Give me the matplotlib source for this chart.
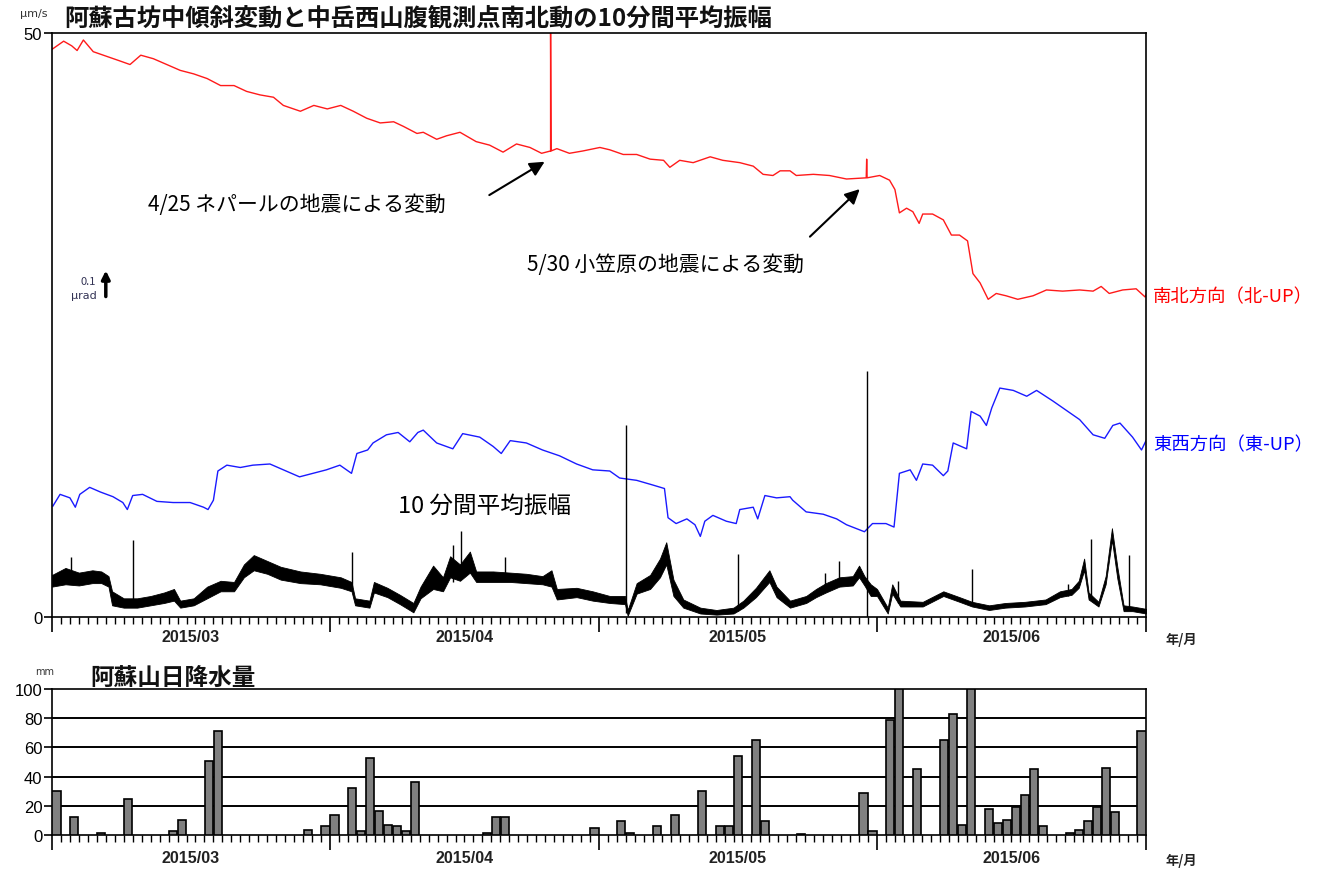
import numpy as np
import matplotlib
matplotlib.use('Agg')
import matplotlib.pyplot as plt
import matplotlib.dates as mdates
import matplotlib.transforms as mtrans
from matplotlib import font_manager
import pandas as pd

plt.rcParams['font.family'] = ['Noto Sans CJK JP', 'DejaVu Sans']
nombres = {f.name for f in font_manager.fontManager.ttflist}
narrow = 'Liberation Sans Narrow' if 'Liberation Sans Narrow' in nombres else 'Liberation Sans'

# dias desde 2015-03-01
t0 = pd.Timestamp('2015-03-01')

# ---- Datos ----
# inclinacion NS (rojo), en unidades del eje
ns_dias = [0, 1.3, 2.2, 2.8, 3.5, 4.6, 6.1, 7.6, 8.7, 9.9, 11.3, 12.8, 14.3, 15.8, 17.3, 18.8,
           20.3, 21.7, 23.2, 24.7, 25.8, 27.7, 29.2, 30.7, 32.2, 33.6, 35.1, 36.6, 38.1, 39.2,
           40.7, 41.4, 42.9, 44.0, 45.5, 47.3, 48.8, 50.3, 51.8, 53.3, 54.6, 55.6, 55.6, 55.65,
           56.3, 57.7, 59.2, 61.1, 62.2, 63.7, 65.2, 66.7, 68.2, 68.9, 70.0, 71.5, 73.4, 74.8,
           76.7, 78.2, 79.3, 80.4, 81.2, 82.3, 83.0, 84.9, 86.7, 88.6, 90.8, 90.85, 90.9, 92.3,
           93.4, 94.0, 94.5, 95.3, 96.0, 96.7, 97.1, 98.2, 99.4, 100.3, 101.2, 102.1, 102.7,
           103.5, 104.4, 105.3, 106.4, 107.7, 109.4, 110.9, 112.7, 114.6, 116.1, 117.0, 117.9,
           119.4, 120.9, 121.9, 122]
ns_val = [48.6, 49.3, 48.9, 48.5, 49.4, 48.4, 48.0, 47.6, 47.3, 48.1, 47.8, 47.3, 46.8, 46.5,
          46.1, 45.5, 45.5, 45.0, 44.7, 44.5, 43.8, 43.3, 43.8, 43.5, 43.8, 43.3, 42.7, 42.3,
          42.4, 42.0, 41.4, 41.5, 40.9, 41.2, 41.5, 40.7, 40.4, 39.8, 40.5, 40.2, 39.7, 39.9,
          50.5, 39.9, 40.1, 39.7, 39.9, 40.2, 40.0, 39.6, 39.6, 39.2, 39.1, 38.5, 39.1, 38.9,
          39.4, 39.1, 38.9, 38.6, 37.9, 37.8, 38.2, 38.2, 37.8, 37.9, 37.8, 37.5, 37.6, 39.2,
          37.6, 37.8, 37.4, 36.6, 34.6, 35.0, 34.7, 33.7, 34.5, 34.5, 34.0, 32.7, 32.7, 32.2,
          29.4, 28.6, 27.2, 27.7, 27.5, 27.2, 27.5, 28.0, 27.9, 28.0, 27.9, 28.3, 27.7, 28.0,
          28.1, 27.4, 27.6]

# inclinacion EW (azul)
ew_dias = [0.1, 0.9, 2.0, 2.6, 3.1, 4.2, 5.4, 6.8, 7.9, 8.4, 9.0, 10.1, 11.7, 13.5, 15.4, 16.9,
           17.4, 18.0, 18.5, 19.5, 21.0, 22.4, 24.3, 25.8, 27.6, 29.1, 30.6, 32.1, 33.4, 34.0,
           35.2, 35.8, 37.3, 38.6, 39.9, 40.8, 41.4, 42.9, 44.7, 45.8, 47.7, 49.2, 50.1, 51.1,
           52.9, 54.7, 56.6, 58.5, 60.3, 62.2, 63.3, 65.2, 67.0, 68.3, 68.7, 69.6, 70.8, 71.7,
           72.3, 72.8, 73.7, 75.2, 76.3, 76.7, 78.2, 78.7, 79.5, 80.8, 82.3, 82.6, 84.1, 86.0,
           87.5, 88.6, 90.6, 91.5, 93.0, 93.9, 94.5, 95.7, 96.4, 97.1, 98.2, 99.4, 99.9, 100.5,
           102.0, 102.5, 103.5, 104.2, 104.8, 105.7, 107.2, 108.7, 109.8, 111.6, 113.1, 114.6,
           116.1, 117.4, 118.3, 119.1, 120.5, 121.5, 122]
ew_val = [9.5, 10.5, 10.2, 9.4, 10.5, 11.1, 10.7, 10.3, 9.8, 9.2, 10.4, 10.5, 9.9, 9.8, 9.8,
          9.4, 9.2, 10.0, 12.5, 13.0, 12.8, 13.0, 13.1, 12.6, 12.0, 12.3, 12.6, 13.0, 12.3, 14.0,
          14.3, 14.9, 15.6, 15.8, 15.0, 15.8, 16.0, 14.9, 14.4, 15.7, 15.4, 14.6, 14.0, 15.1,
          14.9, 14.3, 13.8, 13.1, 12.6, 12.5, 11.9, 11.7, 11.3, 11.0, 8.5, 8.0, 8.4, 7.9, 6.9,
          8.2, 8.7, 8.2, 8.0, 9.2, 9.4, 8.4, 10.4, 10.2, 10.3, 10.0, 9.0, 8.8, 8.4, 7.9, 7.3,
          8.0, 8.0, 7.7, 12.3, 12.6, 11.7, 13.1, 13.0, 12.1, 12.5, 14.9, 14.4, 17.6, 17.2, 16.4,
          17.9, 19.6, 19.4, 18.9, 19.4, 18.5, 17.7, 16.9, 15.6, 15.3, 16.4, 16.6, 15.4, 14.3,
          15.1]

# 10分間平均振幅 (um/s): banda inferior / superior
amp_dias = [0, 1.5, 3, 4.5, 5.5, 6.3, 6.7, 8, 9.5, 11, 12.5, 13.6, 14.3, 15.8, 17.3, 18.8, 20.3,
            21.4, 22.5, 24, 25.5, 27.7, 29.9, 32.2, 33.4, 33.8, 35.4, 35.9, 37.4, 38.8, 40.3,
            41.1, 42.5, 43.6, 44.4, 45.5, 46.6, 47.3, 49.2, 51.1, 52.9, 54.7, 55.7, 56.3, 58.5,
            60.3, 62.2, 63.9, 64.2, 65.2, 66.7, 67.8, 68.5, 69.3, 70.4, 72.3, 74.1, 76, 77.1,
            78.5, 80, 80.8, 82.3, 84.1, 85.2, 86.3, 87.8, 89.3, 90.0, 90.6, 91.3, 92.0, 93.2,
            93.7, 94.6, 97.1, 99.4, 101.2, 102.6, 104.5, 106.3, 108.5, 110.8, 112.4, 113.7,
            114.5, 115.1, 115.6, 116.7, 117.5, 118.2, 118.8, 119.5, 120.5, 122]
amp_lo = [2.6, 2.8, 2.7, 2.9, 2.9, 2.6, 1.0, 0.8, 0.8, 1.0, 1.2, 1.4, 0.8, 1.0, 1.6, 2.2, 2.2,
          3.4, 4.0, 3.7, 3.2, 2.9, 2.8, 2.5, 2.2, 1.0, 0.8, 2.1, 1.7, 1.1, 0.4, 1.6, 2.4, 2.2,
          3.4, 3.1, 3.8, 3.0, 3.0, 3.0, 2.9, 2.8, 2.6, 1.5, 1.7, 1.4, 1.2, 1.1, 0.1, 2.0, 2.4,
          3.4, 4.5, 1.8, 0.8, 0.3, 0.2, 0.3, 0.8, 1.7, 3.0, 1.7, 0.8, 1.2, 1.7, 2.1, 2.6, 2.7,
          3.4, 2.7, 1.8, 1.8, 0.3, 2.0, 0.9, 0.9, 1.8, 1.3, 0.9, 0.6, 0.8, 0.9, 1.1, 1.7, 1.9,
          2.5, 4.0, 1.5, 0.9, 2.8, 6.6, 3.3, 0.5, 0.5, 0.3]
amp_hi = [3.6, 4.2, 3.8, 4.0, 3.9, 3.5, 2.2, 1.6, 1.6, 1.8, 2.1, 2.4, 1.4, 1.6, 2.6, 3.1, 3.0,
          4.5, 5.3, 4.8, 4.3, 3.9, 3.7, 3.4, 3.0, 1.6, 1.4, 3.0, 2.5, 1.9, 1.2, 2.6, 4.4, 3.4,
          5.2, 4.5, 5.6, 3.9, 3.9, 3.8, 3.7, 3.5, 4.0, 2.4, 2.5, 2.2, 1.8, 1.8, 0.6, 2.9, 3.6,
          5.0, 6.4, 3.2, 1.5, 0.8, 0.6, 0.8, 1.4, 2.5, 4.0, 2.6, 1.4, 1.8, 2.4, 2.9, 3.4, 3.5,
          4.4, 3.5, 2.8, 2.4, 0.8, 2.8, 1.4, 1.3, 2.2, 1.7, 1.3, 1.0, 1.2, 1.3, 1.5, 2.2, 2.4,
          3.1, 5.0, 2.1, 1.3, 3.5, 7.6, 4.3, 1.0, 0.9, 0.7]
# picos aislados del振幅
pico_dias = [2.1, 9.0, 33.5, 44.7, 45.6, 50.5, 64.0, 76.5, 86.2, 87.8, 90.9, 94.3, 102.6, 113.3, 115.9, 120.1]
pico_base = [3.5, 1.4, 2.6, 3.0, 3.5, 3.4, 0.3, 0.5, 2.5, 3.0, 0.0, 1.2, 1.1, 1.8, 1.5, 0.7]
pico_top = [5.1, 6.6, 5.6, 6.2, 7.4, 5.1, 16.4, 5.4, 3.8, 4.8, 21.1, 3.1, 4.1, 2.8, 6.7, 5.3]

# 阿蘇山日降水量 (mm), dias con lluvia
lluvia_dias = [0, 2, 5, 8, 13, 14, 17, 18, 28, 30, 31, 33, 34, 35, 36, 37, 38, 39, 40, 48, 49, 50,
               60, 63, 64, 67, 69, 72, 74, 75, 76, 78, 79, 83, 90, 91, 93, 94, 96, 99, 100, 101,
               102, 104, 105, 106, 107, 108, 109, 110, 113, 114, 115, 116, 117, 118, 121]
lluvia_mm = [30, 12, 1.5, 24.5, 2.5, 10.5, 51, 71.5, 3.5, 6, 14, 32.5, 2.5, 53, 16.5, 7, 6, 2.5,
             36, 1.5, 12.5, 12.5, 5, 9.5, 1.5, 6, 14, 30, 6, 6, 54, 65, 9.5, 1, 29, 2.5, 79, 100,
             45, 65, 83, 7, 100, 17.5, 8.5, 10.5, 19.5, 27.5, 45, 6, 1.5, 3.5, 9.5, 19, 46, 16, 71]

meses = ['2015-03-01', '2015-04-01', '2015-05-01', '2015-06-01', '2015-07-01']
etiquetas_mes = ['2015/03', '2015/04', '2015/05', '2015/06']


def fecha(d):
    return t0 + pd.to_timedelta(np.asarray(d, dtype=float), unit='D')


W, H = 1319, 870
fig = plt.figure(figsize=(W / 100, H / 100), dpi=100)


def caja(x0, y0, x1, y1):
    return [x0 / W, 1 - y1 / H, (x1 - x0) / W, (y1 - y0) / H]


ax = fig.add_axes(caja(52, 34, 1146, 618))
ax2 = fig.add_axes(caja(52, 690, 1146, 836))

x_ini, x_fin = pd.Timestamp(meses[0]), pd.Timestamp(meses[-1])


def eje_fechas(a, baja):
    # baja: distancia en puntos bajo el eje para las etiquetas de mes
    a.set_xlim(x_ini, x_fin)
    a.xaxis.set_major_locator(mdates.MonthLocator())
    a.xaxis.set_minor_locator(mdates.DayLocator())
    a.xaxis.set_major_formatter(plt.NullFormatter())
    a.tick_params(axis='x', which='major', length=11, width=1.2, direction='out')
    a.tick_params(axis='x', which='minor', length=5, width=1.0, direction='out')
    tr = mtrans.blended_transform_factory(a.transData, a.transAxes)
    for i, lab in enumerate(etiquetas_mes):
        m0 = mdates.date2num(pd.Timestamp(meses[i]))
        m1 = mdates.date2num(pd.Timestamp(meses[i + 1]))
        a.annotate(lab, xy=((m0 + m1) / 2, 0), xycoords=tr, xytext=(0, -baja),
                   textcoords='offset points', ha='center', va='center', fontsize=11.5,
                   family=narrow, weight='bold', color='#222')
    a.annotate('年/月', xy=(1, 0), xycoords='axes fraction', xytext=(14, -baja - 2),
               textcoords='offset points', ha='left', va='center', fontsize=9.5,
               weight='bold', color='#222')
    for s in a.spines.values():
        s.set_linewidth(1.2)


# ---- panel superior ----
ax.plot(fecha(ns_dias), ns_val, color='#ff1a1a', lw=1.0)
ax.plot(fecha(ew_dias), ew_val, color='#1a1aff', lw=1.0)
ax.fill_between(fecha(amp_dias), amp_lo, amp_hi, color='black', lw=0.6, edgecolor='black')
ax.vlines(fecha(pico_dias), pico_base, pico_top, color='black', lw=1.0)
ax.set_ylim(0, 50)
ax.set_yticks([0, 50])
ax.set_yticklabels(['0', '50'], family=narrow, fontsize=12)
ax.tick_params(axis='y', length=6, width=1.2, pad=1)
eje_fechas(ax, 14)

flecha = dict(arrowstyle='-|>', color='black', lw=1.5, mutation_scale=22)
ax.annotate('', xy=(fecha(55.2), 39.1), xytext=(fecha(48.5), 36.0), arrowprops=flecha)
ax.annotate('', xy=(fecha(90.3), 36.8), xytext=(fecha(84.3), 32.4), arrowprops=flecha)
ax.text(fecha(10.7), 35.4, '4/25 ネパールの地震による変動', fontsize=15, va='center', ha='left')
ax.text(fecha(53.0), 30.2, '5/30 小笠原の地震による変動', fontsize=15, va='center', ha='left')
ax.text(fecha(38.6), 9.6, '10 分間平均振幅', fontsize=17, va='center', ha='left')

# escala 0.1 urad
ax.annotate('', xy=(fecha(6.0), 29.9), xytext=(fecha(6.0), 27.2),
            arrowprops=dict(arrowstyle='-|>', color='black', lw=2.5, mutation_scale=12))
ax.text(fecha(4.9), 28.8, '0.1', fontsize=8, ha='right', va='center', color='#333355')
ax.text(fecha(5.0), 27.6, 'μrad', fontsize=8, ha='right', va='center', color='#333355',
        family=['DejaVu Sans'])

fig.text(1153 / W, 1 - 297 / H, '南北方向（北-UP）', color='#ff0000', fontsize=13.2, va='center')
fig.text(1153 / W, 1 - 445 / H, '東西方向（東-UP）', color='#0000ff', fontsize=13.2, va='center')
fig.text(20 / W, 1 - 14 / H, 'μm/s', fontsize=8, va='center', family=['DejaVu Sans'], color='#333')
fig.text(64 / W, 1 - 19 / H, '阿蘇古坊中傾斜変動と中岳西山腹観測点南北動の10分間平均振幅',
         fontsize=17.5, weight='bold', va='center', color='#111')

# ---- panel de lluvia ----
ax2.bar(fecha(np.array(lluvia_dias) + 0.5), lluvia_mm, width=0.9, color='#808080',
        edgecolor='black', lw=1.2, zorder=3)
ax2.set_ylim(0, 100)
ax2.set_yticks(range(0, 101, 20))
ax2.set_yticklabels([str(v) for v in range(0, 101, 20)], family=narrow, fontsize=12)
ax2.tick_params(axis='y', length=6, width=1.2, pad=1)
for v in range(20, 100, 20):
    ax2.axhline(v, color='black', lw=1.4, zorder=2)
eje_fechas(ax2, 16)
fig.text(35 / W, 1 - 672 / H, 'mm', fontsize=7, va='center', family=['DejaVu Sans'], color='#333')
fig.text(90 / W, 1 - 678 / H, '阿蘇山日降水量', fontsize=17, weight='bold', va='center', color='#111')

fig.savefig('out.png', dpi=100)
